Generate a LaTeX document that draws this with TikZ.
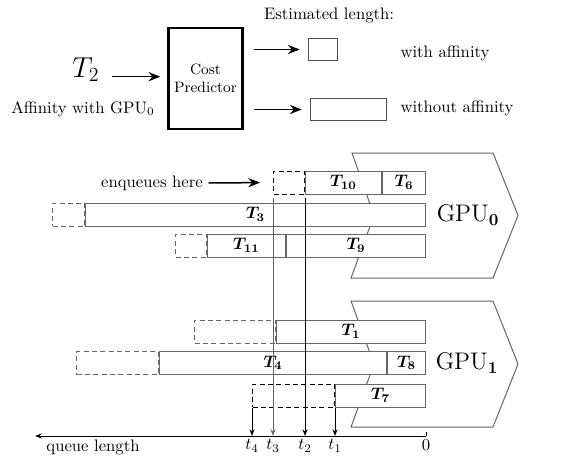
\documentclass[tikz,border=0pt]{standalone}
\usetikzlibrary{positioning, arrows.meta}

\begin{document}
\begin{tikzpicture}[
            x=0.6pt, y=-0.6pt,
            predictor/.style={rectangle, draw, line width=1.6pt, minimum width=43.8pt, minimum height=60.6pt, align=center, font=\small},
            estbox/.style={rectangle, draw=black!70, line width=0.6pt, minimum height=13.5pt, inner sep=0pt},
            bar/.style={rectangle, draw=black!60, fill=white, line width=0.6pt, minimum height=13.8pt, inner sep=0pt, font=\boldmath},
            slot/.style={bar, fill=none, dash pattern=on 3pt off 2pt},
            newslot/.style={slot, draw=black},
            wd/.style={minimum width=#1*0.6pt},
            gpu/.style={draw=black!60, line width=0.6pt},
            bigarrow/.style={-{Stealth[length=7pt, width=5.5pt]}, line width=0.9pt},
            smallarrow/.style={-{Stealth[length=4pt, width=3pt]}, line width=0.6pt}
        ]
            \useasboundingbox (0,0) rectangle (566,460);

            % --- Cost predictor ---
            \node (est) at (329,15) {Estimated length:};
            \node[predictor] (pred) at (205.5,78.5) {Cost\\Predictor};
            \node[font=\LARGE] (task) at (86,70) {$T_2$};
            \node (aff) at (83,109) {Affinity with GPU$_0$};
            \node[estbox, minimum width=17.4pt] (withbox) at (323,49.5) {};
            \node[estbox, minimum width=45.6pt] (withoutbox) at (348.5,109.5) {};
            \node (withtext) at (445,53) {with affinity};
            \node (withouttext) at (457,108) {without affinity};

            \draw[bigarrow, shorten <=4pt, shorten >=4.2pt] ([yshift=-4pt]task.east) -- ([yshift=-4pt]task.east -| pred.west);
            \draw[bigarrow, shorten <=6pt, shorten >=5pt] (pred.east |- withbox) -- (withbox.west);
            \draw[bigarrow, shorten <=6pt, shorten >=5pt] (pred.east |- withoutbox) -- (withoutbox.west);

            % --- GPU shapes ---
            \draw[gpu] (352,153) -- (493,153) -- (518,215.5) -- (493,278) -- (351,278) -- (374,215.5) -- cycle;
            \draw[gpu] (351,301) -- (493,301) -- (518,364) -- (493,427) -- (351,427) -- (374,364) -- cycle;
            \node[font=\Large] (gpu0) at (468,215) {GPU$_{\mathbf{0}}$};
            \node[font=\Large] (gpu1) at (467,363) {GPU$_{\mathbf{1}}$};

            % --- GPU0 queues ---
            \node[bar, wd=43, anchor=east] (task6) at (426,182.5) {$T_6$};
            \node[bar, wd=76, left=0pt of task6] (task10) {$T_{10}$};
            \node[newslot, wd=31, left=0pt of task10] (enq) {};
            \node[bar, wd=340, anchor=east] (task3) at (426,214.5) {$T_3$};
            \node[slot, wd=32, left=0pt of task3] (slot3) {};
            \node[bar, wd=139, anchor=east] (task9) at (426,245.5) {$T_9$};
            \node[bar, wd=78, left=0pt of task9] (task11) {$T_{11}$};
            \node[slot, wd=31, left=0pt of task11] (slot11) {};

            \node (enqtext) at (152,183) {enqueues here};
            \draw[bigarrow, shorten >=7.8pt] (enqtext.east) -- (enq.west);

            % --- GPU1 queues ---
            \node[bar, wd=149, anchor=east] (task1) at (426,331.5) {$T_1$};
            \node[slot, wd=81, left=0pt of task1] (slot1) {};
            \node[bar, wd=38, anchor=east] (task8) at (426,363) {$T_8$};
            \node[bar, wd=227, left=0pt of task8] (task4) {$T_4$};
            \node[slot, wd=82, left=0pt of task4] (slot4) {};
            \node[bar, wd=90, anchor=east] (task7) at (426,395.5) {$T_7$};
            \node[newslot, wd=82, left=0pt of task7] (slot7) {};

            % --- Queue length axis ---
            \coordinate (zero) at (426,436);
            \coordinate (qend) at (35,436);
            \draw[smallarrow] (zero) -- (qend);
            \draw[line width=0.6pt] (zero) -- ++(0,-4);
            \node[below, inner sep=2pt] (zerolabel) at (zero) {0};
            \node (qlabel) at (93,447) {queue length};

            \coordinate (qt4) at (slot7.south west |- zero);
            \coordinate (qt3) at (enq.south west |- zero);
            \coordinate (qt2) at (enq.south east |- zero);
            \coordinate (qt1) at (task7.south west |- zero);
            \draw[smallarrow] (slot7.south west) -- (qt4);
            \draw[smallarrow, black!60, shorten <=2pt] (enq.south west) -- (qt3);
            \draw[smallarrow, shorten <=2pt] (enq.south east) -- (qt2);
            \draw[smallarrow] (task7.south west) -- (qt1);
            \node[below, inner sep=2pt] (t4label) at (qt4) {$t_4$};
            \node[below, inner sep=2pt] (t3label) at (qt3) {$t_3$};
            \node[below, inner sep=2pt] (t2label) at (qt2) {$t_2$};
            \node[below, inner sep=2pt] (t1label) at (qt1) {$t_1$};

        \end{tikzpicture}
\end{document}
